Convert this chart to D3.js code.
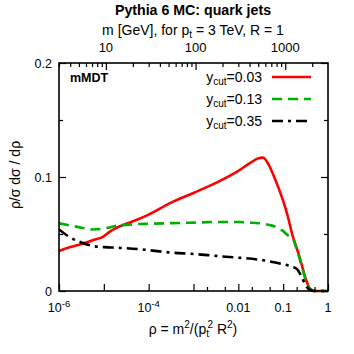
<!DOCTYPE html>
<html><head><meta charset="utf-8">
<script src="https://cdn.jsdelivr.net/npm/d3@7"></script>
<style>
body{margin:0;background:#fff}
svg{display:block}
text{font-family:"Liberation Sans",Arial,Helvetica,sans-serif;fill:#000}
</style>
</head><body>
<svg id="c" width="354" height="354"></svg>
<script>
// ---- data ----
const logRho = [-6,-5.75,-5.5,-5.25,-5,-4.85,-4.75,-4.5,-4.25,-4,-3.5,-3,-2.5,-2,-1.75,-1.55,-1.45,-1.3,-1.2,-1.1,-1.0,-0.9,-0.8,-0.7,-0.6,-0.5,-0.4,-0.3,-0.2,0];
const ycut003 = [0.035,0.0385,0.0412,0.0445,0.048,0.0525,0.0548,0.059,0.0627,0.067,0.0775,0.086,0.0948,0.1053,0.112,0.1165,0.117,0.109,0.100,0.090,0.079,0.066,0.050,0.038,0.025,0.011,0.002,0,0,0];
const ycut013 = [0.0594,0.0575,0.0555,0.054,0.0548,0.056,0.057,0.058,0.0587,0.059,0.0595,0.060,0.0605,0.0605,0.060,0.0595,0.059,0.0578,0.0568,0.055,0.0525,0.049,0.047,0.037,0.024,0.010,0.002,0,0,0];
const ycut035 = [0.054,0.047,0.0425,0.0395,0.0385,0.0382,0.038,0.0375,0.0368,0.0358,0.0337,0.0325,0.0308,0.0292,0.0285,0.0275,0.027,0.026,0.0252,0.0243,0.0235,0.0225,0.0212,0.0195,0.0135,0.005,0.001,0,0,0];
const seriesNames = ["0.03","0.13","0.35"];
const seriesColors = ["#ff0000","#00b000","#000000"];
const seriesDash = [null,"10,6","11,5,3,5"];

const yMajor = [0,0.1,0.2];
const yMinor = [0.05,0.15];
const xMajor = [1e-6,1e-5,1e-4,1e-3,1e-2,1e-1,1];
const xMinor = [2e-3,5e-3,2e-2,5e-2,2e-1,5e-1];
const xLabelVals = [1e-6,1e-4,1e-2,1e-1,1];
const xLabelBase = ["10","10","0.01","0.1","1"];
const xLabelExp  = ["-6","-4","","",""];
const mMajor = [10,100,1000];
const mMinor = [3,4,5,6,7,8,9,20,30,40,50,60,70,80,90,200,300,400,500,600,700,800,900,2000];
const ptGeV = 3000, Rjet = 1;

// ---- layout ----
const L = 59, R = 328, T = 63, B = 291;
const svg = d3.select("#c");
const x = d3.scaleLog().domain([1e-6,1]).range([L,R]);
const xm = d3.scaleLog().domain([Math.sqrt(1e-6)*ptGeV*Rjet, Math.sqrt(1)*ptGeV*Rjet]).range([L,R]);
const y = d3.scaleLinear().domain([0,0.2]).range([B,T]);

// curves
svg.append("clipPath").attr("id","clip").append("rect").attr("x",L).attr("y",T-2).attr("width",R-L).attr("height",B-T+4);
const line = d3.line().x(d=>x(Math.pow(10,d[0]))).y(d=>y(d[1])).curve(d3.curveMonotoneX);
const allSeries = [ycut003,ycut013,ycut035];
allSeries.forEach((vals,i)=>{
  svg.append("path").attr("clip-path","url(#clip)")
    .datum(logRho.map((l,j)=>[l,vals[j]]))
    .attr("d",line).attr("fill","none")
    .attr("stroke",seriesColors[i]).attr("stroke-width",2.6)
    .attr("stroke-dasharray",seriesDash[i]);
});

// axes ticks
const axB = d3.axisBottom(x).tickValues(xMajor).tickSizeInner(-7).tickSizeOuter(0).tickFormat("");
const axBm = d3.axisBottom(x).tickValues(xMinor).tickSizeInner(-4).tickSizeOuter(0).tickFormat("");
svg.append("g").attr("transform",`translate(0,${B})`).call(axB);
svg.append("g").attr("transform",`translate(0,${B})`).call(axBm);
const axT = d3.axisTop(xm).tickValues(mMajor).tickSizeInner(-7).tickSizeOuter(0).tickFormat("");
const axTm = d3.axisTop(xm).tickValues(mMinor).tickSizeInner(-4).tickSizeOuter(0).tickFormat("");
svg.append("g").attr("transform",`translate(0,${T})`).call(axT);
svg.append("g").attr("transform",`translate(0,${T})`).call(axTm);
const axLf = d3.axisLeft(y).tickValues(yMajor).tickSizeInner(-7).tickSizeOuter(0).tickFormat("");
const axLm = d3.axisLeft(y).tickValues(yMinor).tickSizeInner(-4).tickSizeOuter(0).tickFormat("");
const axRt = d3.axisRight(y).tickValues(yMajor).tickSizeInner(-7).tickSizeOuter(0).tickFormat("");
const axRm = d3.axisRight(y).tickValues(yMinor).tickSizeInner(-4).tickSizeOuter(0).tickFormat("");
svg.append("g").attr("transform",`translate(${L},0)`).call(axLf);
svg.append("g").attr("transform",`translate(${L},0)`).call(axLm);
svg.append("g").attr("transform",`translate(${R},0)`).call(axRt);
svg.append("g").attr("transform",`translate(${R},0)`).call(axRm);
svg.selectAll(".domain").remove();
svg.selectAll(".tick line").attr("stroke","#000").attr("stroke-width",1.2);

// frame
svg.append("rect").attr("x",L).attr("y",T).attr("width",R-L).attr("height",B-T)
  .attr("fill","none").attr("stroke","#000").attr("stroke-width",1.6);

// y tick labels
yMajor.forEach(v=>{
  svg.append("text").attr("x",L-7).attr("y",y(v)+4.5).attr("text-anchor","end")
    .attr("font-size",12.5).text(v===0?"0":String(v));
});
// x tick labels
xLabelVals.forEach((v,i)=>{
  const t = svg.append("text").attr("x",x(v)).attr("y",B+21).attr("text-anchor","middle").attr("font-size",12.5);
  t.append("tspan").text(xLabelBase[i]);
  if(xLabelExp[i]) t.append("tspan").attr("font-size",9.5).attr("dy",-5).text(xLabelExp[i]);
});
// top tick labels
mMajor.forEach(v=>{
  svg.append("text").attr("x",xm(v)).attr("y",T-11).attr("text-anchor","middle").attr("font-size",13).text(String(v));
});

// titles
svg.append("text").attr("x",193).attr("y",15).attr("text-anchor","middle")
  .attr("font-size",14.2).attr("font-weight","bold").text("Pythia 6 MC: quark jets");
const st = svg.append("text").attr("x",193).attr("y",34.5).attr("text-anchor","middle").attr("font-size",14);
st.append("tspan").text("m [GeV], for p");
st.append("tspan").attr("font-size",10).attr("dy",3).text("t");
st.append("tspan").attr("dy",-3).text(" = 3 TeV, R = 1");

// x label
const xl = svg.append("text").attr("x",193).attr("y",334).attr("text-anchor","middle").attr("font-size",14);
xl.append("tspan").text("ρ = m");
xl.append("tspan").attr("font-size",10).attr("dy",-6).text("2");
xl.append("tspan").attr("dy",6).text("/(p");
xl.append("tspan").attr("font-size",10).attr("dy",3).text("t");
xl.append("tspan").attr("font-size",10).attr("dx",-1.5).attr("dy",-9).text("2");
xl.append("tspan").attr("dy",6).text(" R");
xl.append("tspan").attr("font-size",10).attr("dy",-6).text("2");
xl.append("tspan").attr("dy",6).text(")");

// y label
svg.append("text").attr("transform","translate(20,175) rotate(-90)").attr("text-anchor","middle")
  .attr("font-size",14).text("ρ/σ dσ / dρ");

// mMDT label
svg.append("text").attr("x",70).attr("y",82).attr("font-size",12.5).attr("font-weight","bold").text("mMDT");

// legend
const legY = [77,99,121];
seriesNames.forEach((n,i)=>{
  const t = svg.append("text").attr("x",262).attr("y",legY[i]+4.5).attr("text-anchor","end").attr("font-size",14);
  t.append("tspan").text("y");
  t.append("tspan").attr("font-size",10).attr("dy",3).text("cut");
  t.append("tspan").attr("dy",-3).text("="+n);
  svg.append("line").attr("x1",272).attr("x2",311).attr("y1",legY[i]).attr("y2",legY[i])
    .attr("stroke",seriesColors[i]).attr("stroke-width",2.6).attr("stroke-dasharray",seriesDash[i]);
});
</script>
</body></html>
